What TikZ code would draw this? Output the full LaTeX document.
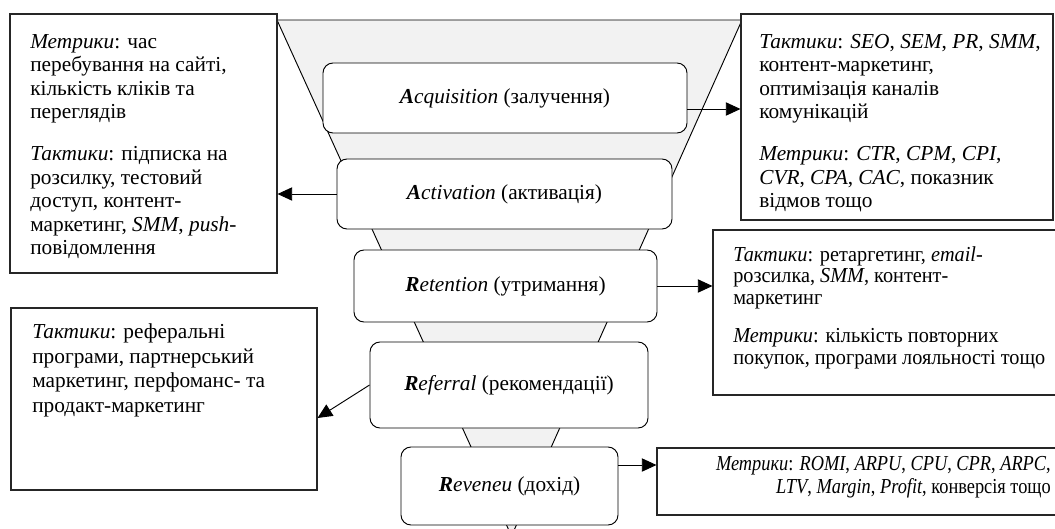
\documentclass[tikz,border=0pt]{standalone}
\usepackage{fontspec}
\setmainfont{Liberation Serif}
\newfontfamily\condA[FakeStretch=0.86]{Liberation Serif}
\newfontfamily\condB[FakeStretch=0.95]{Liberation Serif}
\usetikzlibrary{arrows.meta,calc}
\begin{document}
\begin{tikzpicture}[x=0.75pt,y=-0.75pt,
  every node/.style={font=\fontsize{16pt}{17.6pt}\selectfont},
  stage/.style={draw=black,line width=0.7pt,fill=white,rounded corners=7.5pt,inner sep=0pt},
  sidebox/.style={draw=black!85,line width=0.8pt,fill=white,inner sep=0pt},
  txt/.style={inner sep=0pt,anchor=north west,align=left},
  arr/.style={line width=0.7pt,-{Triangle[length=11pt,width=10pt]}}
]
\useasboundingbox (0,0) rectangle (1055,528);
% funnel
\draw[fill=black!5,line width=0.7pt] (277,20) -- (742,20) -- (511.5,536) -- cycle;
% side boxes
\node[sidebox,minimum width=200.25pt,minimum height=194.25pt] (lt) at (143.5,143.5) {};
\node[sidebox,minimum width=234pt,minimum height=154.5pt] (rt) at (897,117) {};
\node[sidebox,minimum width=264pt,minimum height=123.75pt] (rr) at (889,312.5) {};
\node[sidebox,minimum width=229.5pt,minimum height=136.5pt] (lb) at (164,399) {};
\node[sidebox,minimum width=306pt,minimum height=50.25pt] (rm) at (861,481.5) {};
% stages
\node[stage,minimum width=273pt,minimum height=52.5pt] (acq) at (505,98) {\textbf{\textit{A}}\textit{cquisition} (залучення)};
\node[stage,minimum width=251.25pt,minimum height=52.5pt] (act) at (504.5,194) {\textbf{\textit{A}}\textit{ctivation} (активація)};
\node[stage,minimum width=227.25pt,minimum height=54pt] (ret) at (505.5,286) {\textbf{\textit{R}}\textit{etention} (утримання)};
\node[stage,minimum width=208.5pt,minimum height=64.5pt] (ref) at (509,385) {\textbf{\textit{R}}\textit{eferral} (рекомендації)};
\node[stage,minimum width=162.75pt,minimum height=58.5pt] (rev) at (509.5,486) {\textbf{\textit{R}}\textit{eveneu} (дохід)};
% texts
\node[txt] (ltt) at (30,34) {\textit{Метрики}: час\\
перебування на сайті,\\
кількість кліків та\\
переглядів\\[14pt]
\textit{Тактики}: підписка на\\
розсилку, тестовий\\
доступ, контент-\\
маркетинг, \textit{SMM}, \textit{push}-\\
повідомлення};
\node[txt] (rtt) at (759,34) {\textit{Тактики}: \textit{SEO}, \textit{SEM}, \textit{PR}, \textit{SMM},\\
контент-маркетинг,\\
оптимізація каналів\\
комунікацій\\[14pt]
\textit{Метрики}: \textit{CTR}, \textit{CPM}, \textit{CPI},\\
\textit{CVR}, \textit{CPA}, \textit{CAC}, показник\\
відмов тощо};
\node[txt,font=\condB\fontsize{16pt}{16.3pt}\selectfont] (rrt) at (733,246) {\textit{Тактики}: ретаргетинг, \textit{email}-\\
розсилка, \textit{SMM}, контент-\\
маркетинг\\[12pt]
\textit{Метрики}: кількість повторних\\
покупок, програми лояльності тощо};
\node[txt,font=\fontsize{16pt}{18.7pt}\selectfont] (lbt) at (32,323) {\textit{Тактики}: реферальні\\
програми, партнерський\\
маркетинг, перфоманс- та\\
продакт-маркетинг};
\node[inner sep=0pt,anchor=north east,align=right,font=\condA\fontsize{16pt}{17.25pt}\selectfont] (rmt) at (1051,456) {\textit{Метрики}: \textit{ROMI}, \textit{ARPU}, \textit{CPU}, \textit{CPR}, \textit{ARPC},\\
\textit{LTV}, \textit{Margin}, \textit{Profit}, конверсія тощо};
% arrows
\draw[arr] ([shift={(0,11)}]acq.east) -- ([shift={(0,11)}]acq.east -| rt.west);
\draw[arr] (act.west) -- (act.west -| lt.east);
\draw[arr] (ret.east) -- (ret.east -| rr.west);
\draw[arr] (ref.west) -- ([shift={(0,19)}]lb.east);
\draw[arr] ([shift={(0,-21)}]rev.east) -- ([shift={(0,-21)}]rev.east -| rm.west);
\end{tikzpicture}
\end{document}
